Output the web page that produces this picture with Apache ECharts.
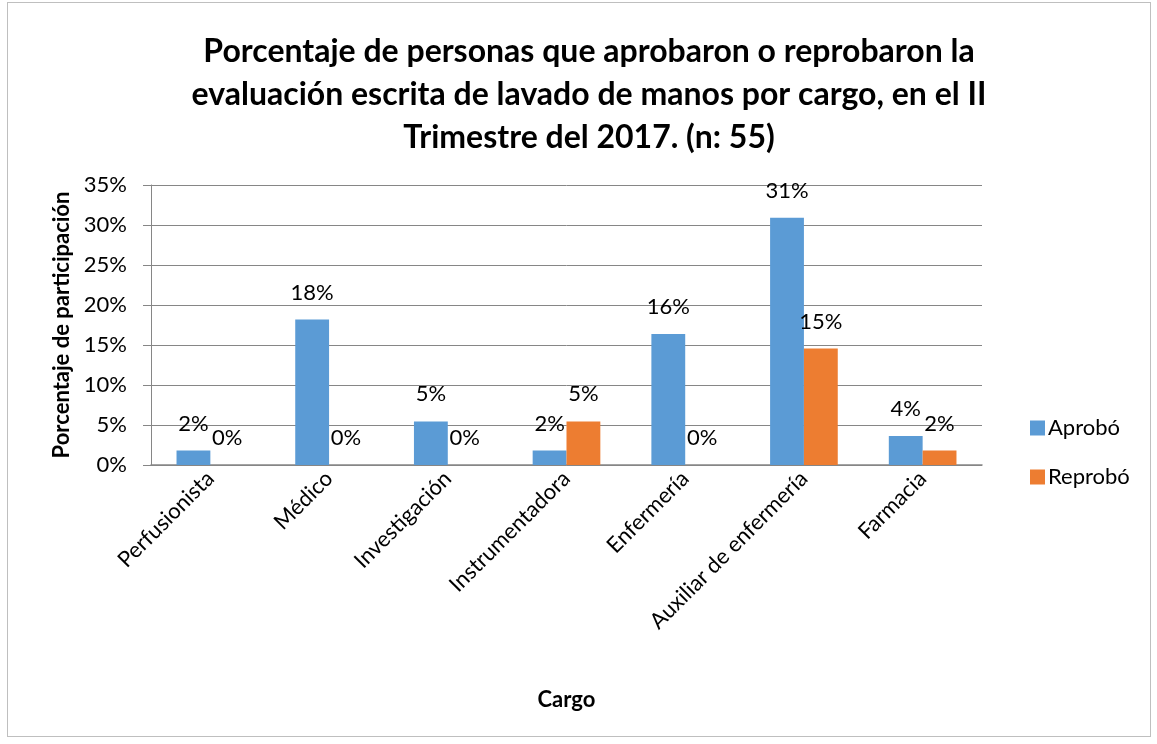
<!DOCTYPE html>
<html><head><meta charset="utf-8">
<script src="https://cdn.jsdelivr.net/npm/echarts@6/dist/echarts.min.js"></script>
<style>
html,body{margin:0;padding:0;background:#fff;}
#frame{position:absolute;left:7px;top:2px;width:1142px;height:733px;border:1px solid #bfbfbf;}
#c{position:absolute;left:0;top:0;width:1157px;height:744px;}
</style></head><body>
<div id="frame"></div>
<div id="c"></div>
<script>
const categories = ['Perfusionista','Médico','Investigación','Instrumentadora','Enfermería','Auxiliar de enfermería','Farmacia'];
const aprobo = [1.82, 18.18, 5.45, 1.82, 16.36, 30.91, 3.64];
const reprobo = [0, 0, 0, 5.45, 0, 14.55, 1.82];
const yTicks = [0,5,10,15,20,25,30,35];

const font = 'Lato';
const fs = 22;
const chart = echarts.init(document.getElementById('c'));
const labelCfg = {show:true, position:'top', distance:16, fontFamily:font, fontSize:fs, color:'#000',
  formatter: p => Math.round(p.value) + '%'};
chart.setOption({
  animation:false,
  title:{text:'Porcentaje de personas que aprobaron o reprobaron la\nevaluación escrita de lavado de manos por cargo, en el II\nTrimestre del 2017. (n: 55)',
    top:25, textAlign:'center', left:584,
    textStyle:{fontFamily:font, fontWeight:'bold', fontSize:32, lineHeight:43, color:'#000'}},
  legend:{orient:'vertical', left:1025, top:412, itemWidth:15, itemHeight:15, itemGap:27, icon:'rect',
    textStyle:{fontFamily:font, fontSize:fs, color:'#000', padding:[0,0,0,-2]}, data:['Aprobó','Reprobó']},
  grid:{left:151, right:175, top:185, bottom:279},
  xAxis:{type:'category', data:categories,
    axisLine:{lineStyle:{color:'#868686', width:1.5}}, axisTick:{show:false},
    axisLabel:{rotate:45, fontFamily:font, fontSize:fs, color:'#000', margin:10, interval:0},
    name:'Cargo', nameLocation:'middle', nameGap:224, nameTextStyle:{fontFamily:font, fontWeight:'bold', fontSize:fs, color:'#000'}},
  yAxis:{type:'value', min:0, max:35, interval:5,
    axisLine:{show:true, lineStyle:{color:'#868686'}}, axisTick:{show:true, length:8, lineStyle:{color:'#868686'}},
    splitLine:{lineStyle:{color:'#868686'}},
    axisLabel:{fontFamily:font, fontSize:fs, color:'#000', margin:24, formatter: v => yTicks.includes(v) ? v + '%' : ''},
    name:'Porcentaje de participación', nameLocation:'middle', nameGap:76, nameRotate:90,
    nameTextStyle:{fontFamily:font, fontWeight:'bold', fontSize:fs, color:'#000'}},
  series:[
    {name:'Aprobó', type:'bar', data:aprobo, itemStyle:{color:'#5B9BD5'}, barGap:'0%', barCategoryGap:'43%', label:labelCfg},
    {name:'Reprobó', type:'bar', data:reprobo, itemStyle:{color:'#ED7D31'}, barGap:'0%', barCategoryGap:'43%', label:labelCfg}
  ]
});
</script></body></html>
